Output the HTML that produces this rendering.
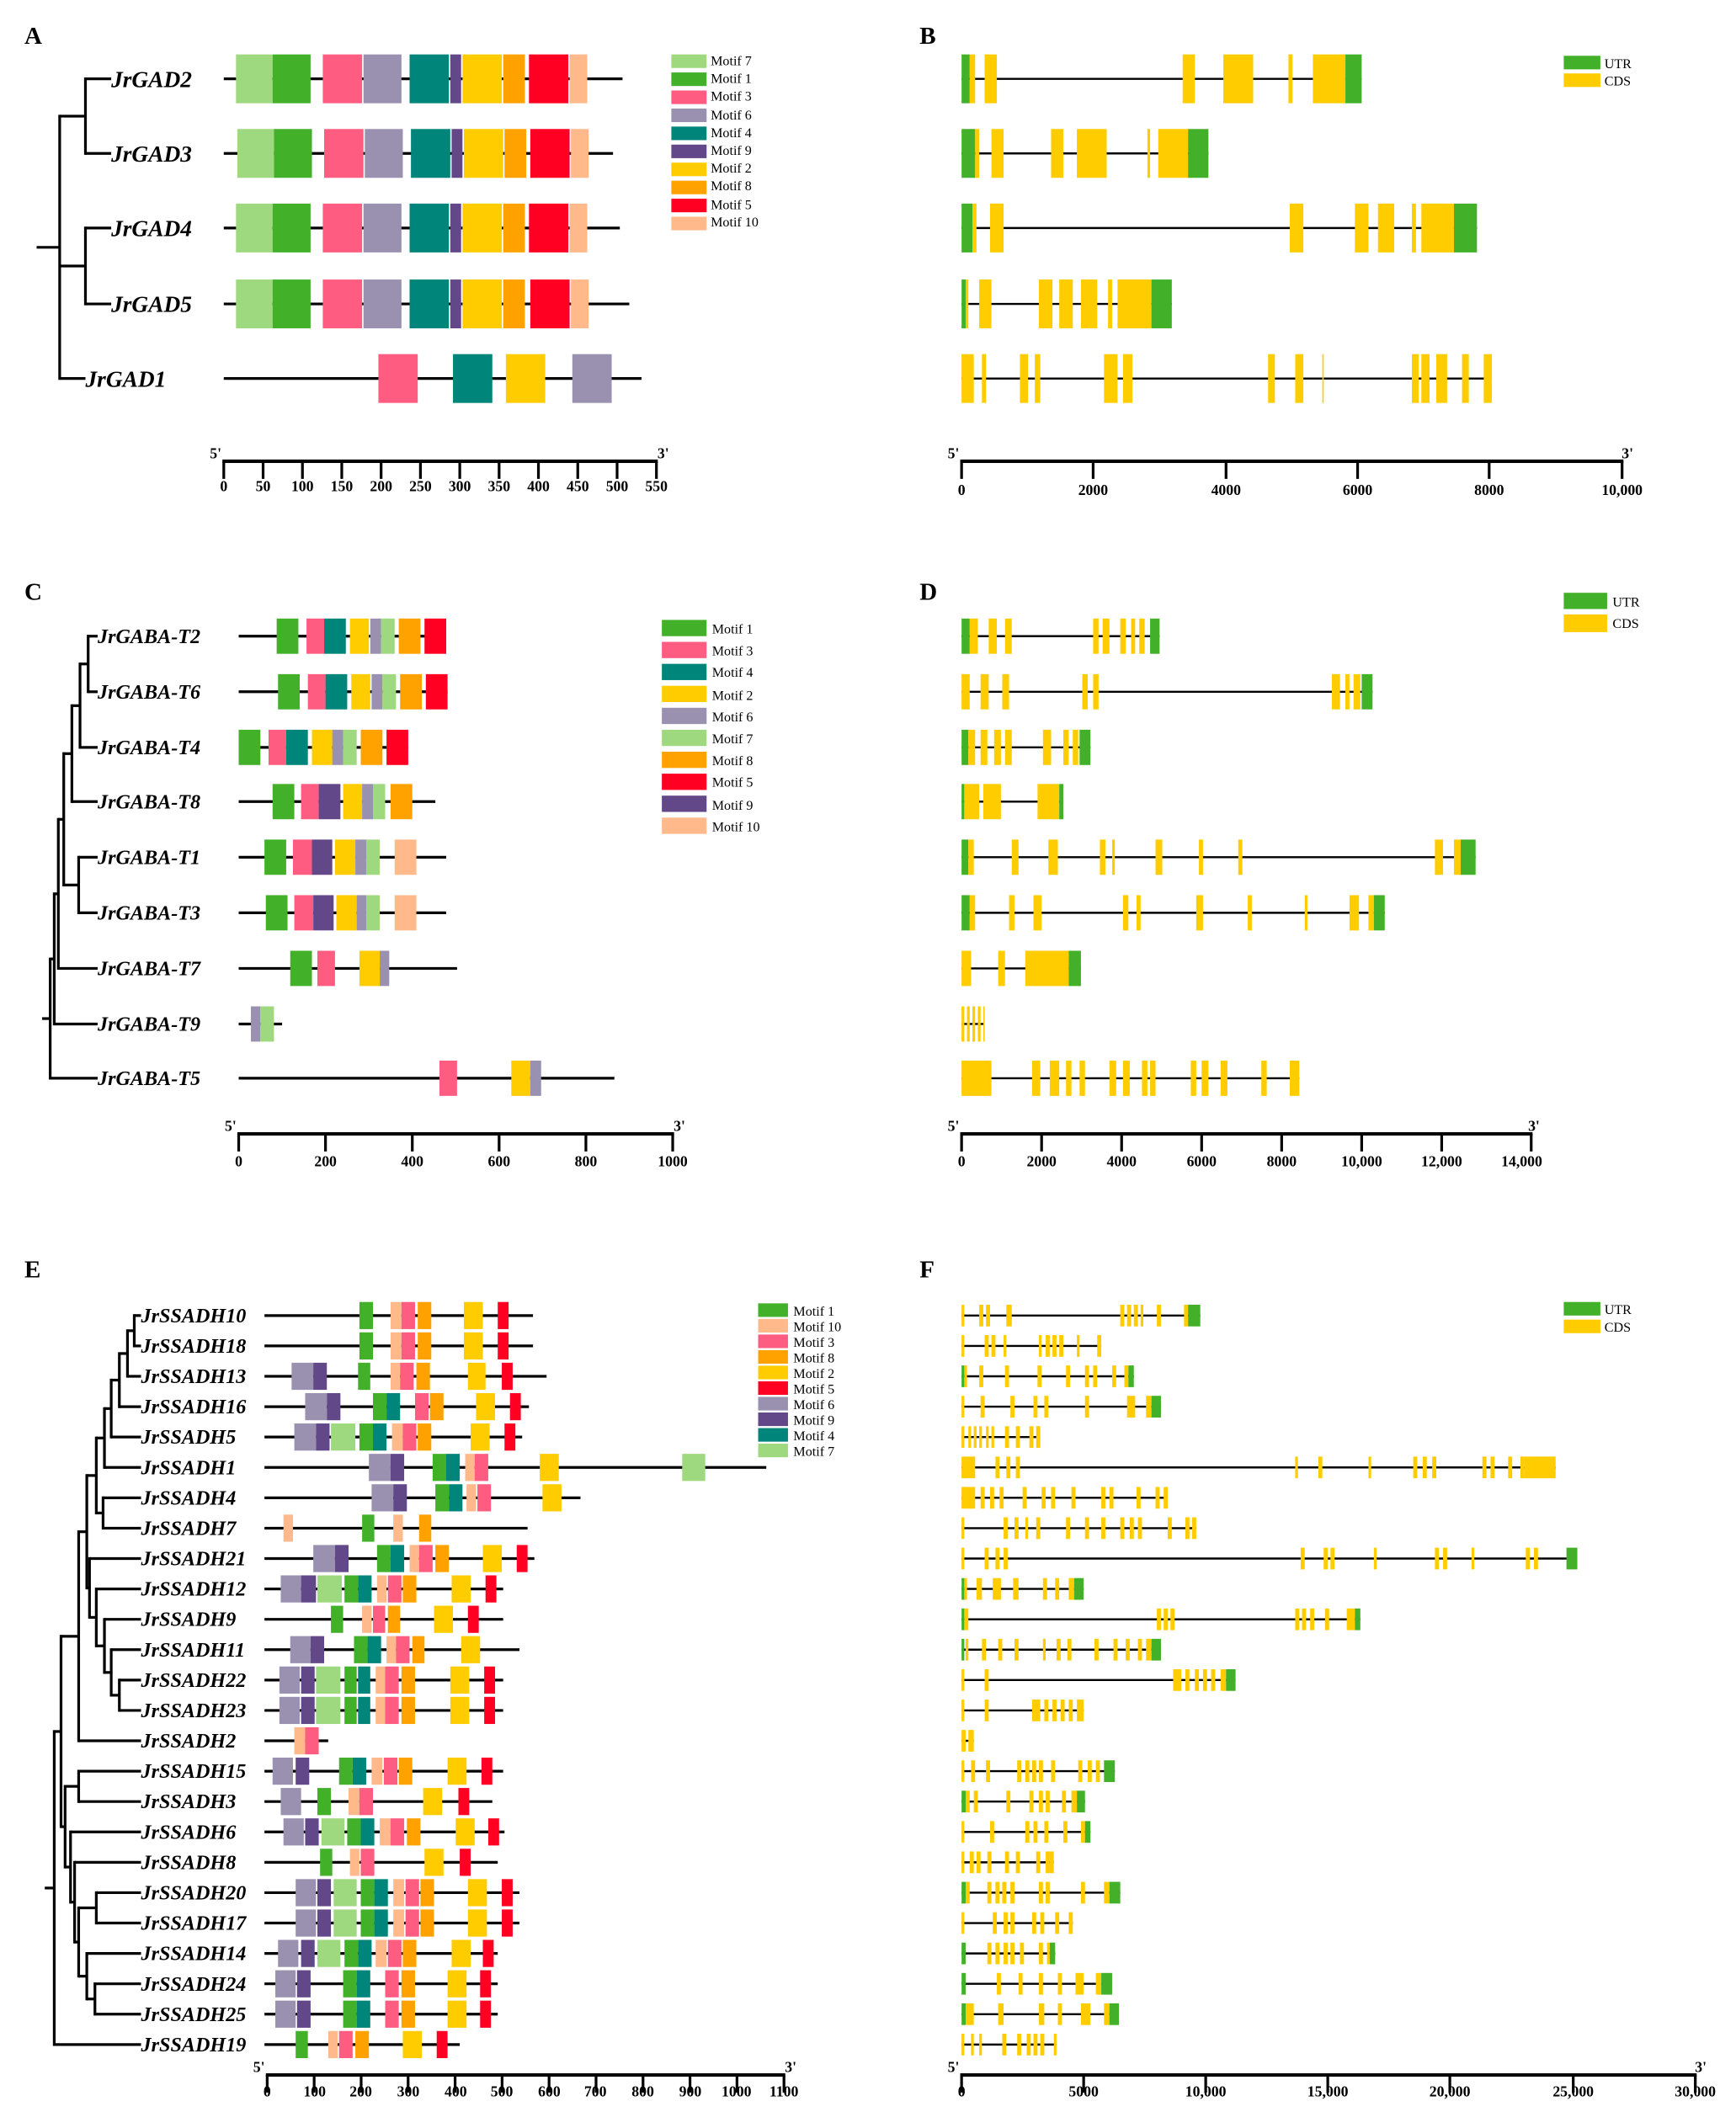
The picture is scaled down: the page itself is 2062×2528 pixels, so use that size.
<!DOCTYPE html>
<html><head><meta charset="utf-8"><style>
html,body{margin:0;padding:0;background:#fff}
svg{display:block}
.g{font-family:"Liberation Serif",serif;font-weight:bold;font-style:italic}
.t{font-family:"Liberation Serif",serif}
.b{font-family:"Liberation Serif",serif;font-weight:bold}
</style></head><body>
<svg id="s" width="2062" height="2528" viewBox="0 0 1280 1569" xmlns="http://www.w3.org/2000/svg">
<g class="b" font-size="18">
<text x="18" y="32">A</text><text x="678" y="32">B</text>
<text x="18" y="442">C</text><text x="678" y="442">D</text>
<text x="18" y="942">E</text><text x="678" y="942">F</text>
</g>
<g class="g" font-size="17">
<text x="82" y="64">JrGAD2</text><text x="82" y="119">JrGAD3</text><text x="82" y="174">JrGAD4</text><text x="82" y="230">JrGAD5</text><text x="63" y="285">JrGAD1</text>
</g>
<g class="g" font-size="15">
<text x="72" y="474">JrGABA-T2</text><text x="72" y="515">JrGABA-T6</text><text x="72" y="556">JrGABA-T4</text><text x="72" y="596">JrGABA-T8</text><text x="72" y="637">JrGABA-T1</text><text x="72" y="678">JrGABA-T3</text><text x="72" y="719">JrGABA-T7</text><text x="72" y="760">JrGABA-T9</text><text x="72" y="800">JrGABA-T5</text>
</g>
<g class="g" font-size="15" id="elab">
<text x="104" y="975">JrSSADH10</text><text x="104" y="997.4">JrSSADH18</text><text x="104" y="1019.8">JrSSADH13</text><text x="104" y="1042.2">JrSSADH16</text><text x="104" y="1064.6">JrSSADH5</text><text x="104" y="1087">JrSSADH1</text><text x="104" y="1109.4">JrSSADH4</text><text x="104" y="1131.8">JrSSADH7</text><text x="104" y="1154.2">JrSSADH21</text><text x="104" y="1176.6">JrSSADH12</text><text x="104" y="1199">JrSSADH9</text><text x="104" y="1221.4">JrSSADH11</text><text x="104" y="1243.8">JrSSADH22</text><text x="104" y="1266.2">JrSSADH23</text><text x="104" y="1288.6">JrSSADH2</text><text x="104" y="1311">JrSSADH15</text><text x="104" y="1333.4">JrSSADH3</text><text x="104" y="1355.8">JrSSADH6</text><text x="104" y="1378.2">JrSSADH8</text><text x="104" y="1400.6">JrSSADH20</text><text x="104" y="1423">JrSSADH17</text><text x="104" y="1445.4">JrSSADH14</text><text x="104" y="1467.8">JrSSADH24</text><text x="104" y="1490.2">JrSSADH25</text><text x="104" y="1512.6">JrSSADH19</text>
</g>
<g class="t" font-size="10">
<text x="524" y="48">Motif 7</text><text x="524" y="61">Motif 1</text><text x="524" y="74">Motif 3</text><text x="524" y="88">Motif 6</text><text x="524" y="101">Motif 4</text><text x="524" y="114">Motif 9</text><text x="524" y="127">Motif 2</text><text x="524" y="140">Motif 8</text><text x="524" y="154">Motif 5</text><text x="524" y="167">Motif 10</text>
<text x="1183" y="50">UTR</text><text x="1183" y="63">CDS</text>
<text x="525" y="467">Motif 1</text><text x="525" y="483">Motif 3</text><text x="525" y="499">Motif 4</text><text x="525" y="516">Motif 2</text><text x="525" y="532">Motif 6</text><text x="525" y="548">Motif 7</text><text x="525" y="564">Motif 8</text><text x="525" y="580">Motif 5</text><text x="525" y="597">Motif 9</text><text x="525" y="613">Motif 10</text>
<text x="1189" y="447">UTR</text><text x="1189" y="463">CDS</text>
<text x="585" y="970">Motif 1</text><text x="585" y="981.5">Motif 10</text><text x="585" y="993">Motif 3</text><text x="585" y="1004.5">Motif 8</text><text x="585" y="1016">Motif 2</text><text x="585" y="1027.5">Motif 5</text><text x="585" y="1039">Motif 6</text><text x="585" y="1050.5">Motif 9</text><text x="585" y="1062">Motif 4</text><text x="585" y="1073.5">Motif 7</text>
<text x="1183" y="969">UTR</text><text x="1183" y="982">CDS</text>
</g>
<g class="b" font-size="11" text-anchor="middle" id="ax">
<text x="165" y="362">0</text><text x="194" y="362">50</text><text x="223" y="362">100</text><text x="252" y="362">150</text><text x="281" y="362">200</text><text x="310" y="362">250</text><text x="339" y="362">300</text><text x="368" y="362">350</text><text x="397" y="362">400</text><text x="426" y="362">450</text><text x="455" y="362">500</text><text x="484" y="362">550</text>
<text x="709" y="365">0</text><text x="806" y="365">2000</text><text x="904" y="365">4000</text><text x="1001" y="365">6000</text><text x="1098" y="365">8000</text><text x="1196" y="365">10,000</text>
<text x="176" y="860">0</text><text x="240" y="860">200</text><text x="304" y="860">400</text><text x="368" y="860">600</text><text x="432" y="860">800</text><text x="496" y="860">1000</text>
<text x="709" y="860">0</text><text x="768" y="860">2000</text><text x="827" y="860">4000</text><text x="886" y="860">6000</text><text x="945" y="860">8000</text><text x="1004" y="860">10,000</text><text x="1063" y="860">12,000</text><text x="1122" y="860">14,000</text>
<text x="197" y="1546">0</text><text x="232" y="1546">100</text><text x="266" y="1546">200</text><text x="301" y="1546">300</text><text x="336" y="1546">400</text><text x="370" y="1546">500</text><text x="405" y="1546">600</text><text x="439" y="1546">700</text><text x="474" y="1546">800</text><text x="509" y="1546">900</text><text x="543" y="1546">1000</text><text x="578" y="1546">1100</text>
<text x="709" y="1546">0</text><text x="799" y="1546">5000</text><text x="889" y="1546">10,000</text><text x="979" y="1546">15,000</text><text x="1069" y="1546">20,000</text><text x="1160" y="1546">25,000</text><text x="1250" y="1546">30,000</text>
<text x="159" y="338">5'</text><text x="489" y="338">3'</text>
<text x="703" y="338">5'</text><text x="1200" y="338">3'</text>
<text x="170" y="834">5'</text><text x="501" y="834">3'</text>
<text x="703" y="834">5'</text><text x="1131" y="834">3'</text>
<text x="191" y="1528">5'</text><text x="583" y="1528">3'</text>
<text x="703" y="1528">5'</text><text x="1254" y="1528">3'</text>
</g>
<g id="d"></g>
</svg>
<script>
var C={7:'#9fd97f',1:'#43b02a',3:'#ff5c82',6:'#9a91b0',4:'#00857a',9:'#624789',2:'#ffcc00',8:'#ffa200',5:'#ff0022',10:'#ffb98a',U:'#43b02a',Y:'#ffcc00'};
var h='';
function R(x1,x2,y1,y2,c){h+='<rect x="'+x1+'" y="'+y1+'" width="'+(x2-x1)+'" height="'+(y2-y1)+'" fill="'+c+'"/>';}
function L(x1,y1,x2,y2,w){h+='<line x1="'+x1+'" y1="'+y1+'" x2="'+x2+'" y2="'+y2+'" stroke="#000" stroke-width="'+(w||2)+'"/>';}
function row(x0,x1,y,bh,m){L(x0,y,x1,y,2);m.forEach(function(b){R(b[1],b[2],y-bh/2,y+bh/2,C[b[0]]);});}
function tree(n,px,Y,lx){if(typeof n=='number'){var y=Y[n];L(px,y,lx[n]||lx.d,y,2);return y;}
 var x=n[0],a=[];for(var i=1;i<n.length;i++)a.push(tree(n[i],x,Y,lx));var mn=Math.min.apply(0,a),mx=Math.max.apply(0,a);L(x,mn-1,x,mx+1,2);var y=(mn+mx)/2;L(px,y,x,y,2);return y;}
function axis(x0,x1,y,t){L(x0-1,y,x1+1,y,2.5);t.forEach(function(x){L(x,y,x,y+13,2);});}
// Panel A
var YA=[58,113,168,224,279];
var A=[[174,201,229,238,267,268,296,302,331,332,340,341,370,371,387,390,419,420,433,459],[175,202,230,239,268,269,297,303,332,333,341,342,371,372,388,391,420,421,434,452],[174,201,229,238,267,268,296,302,331,332,340,341,370,371,387,390,419,420,433,457],[174,201,229,238,267,268,296,302,331,332,340,341,370,371,387,391,420,421,434,464]];
var ko=[7,1,3,6,4,9,2,8,5,10];
A.forEach(function(a,i){var m=[];m.push([7,a[0],a[1]]);m.push([1,a[1],a[2]]);m.push([3,a[3],a[4]]);m.push([6,a[5],a[6]]);m.push([4,a[7],a[8]]);m.push([9,a[9],a[10]]);m.push([2,a[11],a[12]]);m.push([8,a[13],a[14]]);m.push([5,a[15],a[16]]);m.push([10,a[17],a[18]]);row(165,a[19],YA[i],36,m);});
row(165,473,279,36,[[3,279,308],[4,334,363],[2,373,402],[6,422,451]]);
tree([44,[63,0,1],[63,2,3],4],27,YA,{d:82,4:63});
ko.forEach(function(k,i){R(495,521,40+i*13.3,50+i*13.3,C[k]);});
axis(165,484,340,[165,194,223,252,281,310,339,368,397,426,455,484]);
// Panel B
function gs(y,end,bh,list){L(709,y,end,y,1.5);list.forEach(function(e){R(e[0],e[1],y-bh/2,y+bh/2,e[2]?C.U:C.Y);});}
gs(58,1004,36,[[709,715,1],[715,719],[726,735],[872,881],[902,924],[950,953],[968,992],[992,1004,1]]);
gs(113,891,36,[[709,719,1],[719,722],[731,740],[775,784],[794,816],[846,848],[854,876],[876,891,1]]);
gs(168,1089,36,[[709,717,1],[717,720],[730,740],[951,961],[999,1009],[1016,1028],[1041,1044],[1048,1072],[1072,1089,1]]);
gs(224,864,36,[[709,712,1],[712,714],[722,731],[766,776],[781,791],[797,809],[817,820],[824,849],[849,864,1]]);
gs(279,1100,36,[[709,718],[724,727],[752,758],[763,767],[814,824],[828,835],[935,940],[955,961],[975,976],[1041,1046],[1048,1054],[1059,1067],[1078,1083],[1094,1100]]);
R(1153,1180,41,51,C.U);R(1153,1180,54,64,C.Y);
axis(709,1196,340,[709,806,904,1001,1098,1196]);
// Panel C
var YC=[469,510,551,591,632,673,714,755,795];
var CD=[[329,[[1,204,220],[3,226,239],[4,239,255],[2,258,272],[6,273,281],[7,281,291],[8,294,310],[5,313,329]]],
[330,[[1,205,221],[3,227,240],[4,240,256],[2,259,273],[6,274,282],[7,282,292],[8,295,311],[5,314,330]]],
[301,[[1,176,192],[3,198,211],[4,211,227],[2,230,245],[6,245,253],[7,253,263],[8,266,282],[5,285,301]]],
[321,[[1,201,217],[3,222,235],[9,235,251],[2,253,267],[6,267,275],[7,275,284],[8,288,304]]],
[329,[[1,195,211],[3,216,230],[9,230,245],[2,247,262],[6,262,270],[7,270,280],[10,291,307]]],
[329,[[1,196,212],[3,217,231],[9,231,246],[2,248,263],[6,263,270],[7,270,280],[10,291,307]]],
[337,[[1,214,230],[3,234,247],[2,265,280],[6,280,287]]],
[208,[[6,185,192],[7,192,202]]],
[453,[[3,324,337],[2,377,391],[6,391,399]]]];
CD.forEach(function(c,i){row(176,c[0],YC[i],26,c[1]);});
tree([37,[40,[43,[47,[53,[59,[65,0,1],2],3],[58,4,5]],6],7],8],31,YC,{d:72});
[1,3,4,2,6,7,8,5,9,10].forEach(function(k,i){R(488,521,457+i*16.2,469+i*16.2,C[k]);});
axis(176,496,836,[176,240,304,368,432,496]);
// Panel D
gs(469,855,26,[[709,715,1],[715,721],[729,735],[741,746],[806,810],[813,818],[826,830],[834,837],[840,844],[848,855,1]]);
gs(510,1012,26,[[709,715],[723,729],[739,744],[798,802],[806,810],[982,988],[992,995],[998,1003],[1004,1012,1]]);
gs(551,804,26,[[709,714,1],[714,719],[723,728],[733,738],[741,746],[769,775],[784,788],[791,795],[796,804,1]]);
gs(591,784,26,[[709,711,1],[711,722],[725,738],[765,781],[781,784,1]]);
gs(632,1088,26,[[709,714,1],[714,718],[746,751],[773,780],[811,815],[820,822],[852,857],[884,887],[913,916],[1058,1064],[1072,1077],[1077,1088,1]]);
gs(673,1021,26,[[709,715,1],[715,719],[744,748],[762,768],[828,832],[838,841],[882,887],[920,923],[962,964],[995,1002],[1009,1013],[1013,1021,1]]);
gs(714,797,26,[[709,716],[736,741],[756,788],[788,797,1]]);
gs(755,726,26,[[709,711],[713,715],[717,719],[721,723],[725,726]]);
gs(795,958,26,[[709,731],[761,767],[774,781],[786,790],[796,800],[818,823],[828,833],[842,846],[848,852],[878,882],[886,891],[900,905],[930,934],[951,958]]);
R(1153,1185,437,449,C.U);R(1153,1185,453,466,C.Y);
axis(709,1129,836,[709,768,827,886,945,1004,1063,1129]);
// Panel E
var YE=[];for(var i=0;i<25;i++)YE.push(970+i*22.4);
var E=[[393,[[1,265,275],[10,288,296],[3,296,306],[8,308,318],[2,342,356],[5,367,375]]],
[393,[[1,265,275],[10,288,296],[3,296,306],[8,308,318],[2,342,356],[5,367,375]]],
[403,[[6,215,231],[9,231,241],[1,264,273],[10,288,295],[3,295,305],[8,307,317],[2,345,358],[5,370,378]]],
[390,[[6,225,241],[9,241,251],[1,275,285],[4,285,295],[3,306,316],[8,317,327],[2,351,365],[5,376,384]]],
[385,[[6,217,233],[9,233,243],[7,244,262],[1,265,275],[4,275,285],[10,289,297],[3,297,307],[8,308,318],[2,347,361],[5,372,380]]],
[565,[[6,272,288],[9,288,298],[1,319,329],[4,329,339],[10,343,350],[3,350,360],[2,398,412],[7,503,520]]],
[428,[[6,274,290],[9,290,300],[1,321,331],[4,331,341],[10,344,351],[3,352,362],[2,400,414]]],
[389,[[10,209,216],[1,267,276],[10,290,297],[8,309,318]]],
[394,[[6,231,247],[9,247,257],[1,278,288],[4,288,298],[10,302,309],[3,309,319],[8,321,331],[2,356,370],[5,381,389]]],
[371,[[6,207,222],[9,222,233],[7,234,252],[1,254,264],[4,264,274],[10,278,285],[3,286,296],[8,297,307],[2,333,347],[5,358,366]]],
[371,[[1,244,253],[10,267,274],[3,275,284],[8,286,295],[2,320,334],[5,345,353]]],
[383,[[6,214,229],[9,229,239],[1,261,271],[4,271,281],[10,285,292],[3,292,302],[8,304,313],[2,340,354]]],
[371,[[6,206,221],[9,222,232],[7,233,251],[1,254,263],[4,264,273],[10,277,284],[3,284,294],[8,296,306],[2,332,346],[5,357,365]]],
[371,[[6,206,221],[9,222,232],[7,233,251],[1,254,263],[4,264,273],[10,277,284],[3,284,294],[8,296,306],[2,332,346],[5,357,365]]],
[242,[[10,217,225],[3,225,235]]],
[371,[[6,201,216],[9,218,228],[1,250,260],[4,260,270],[10,274,282],[3,283,293],[8,294,304],[2,330,344],[5,355,363]]],
[363,[[6,207,222],[1,234,244],[10,257,265],[3,265,275],[2,312,326],[5,338,346]]],
[372,[[6,209,224],[9,225,235],[7,237,254],[1,256,266],[4,266,276],[10,280,288],[3,288,298],[8,300,310],[2,336,350],[5,360,368]]],
[367,[[1,236,245],[10,258,265],[3,266,276],[2,313,327],[5,339,347]]],
[383,[[6,218,233],[9,234,244],[7,246,263],[1,266,276],[4,276,286],[10,290,298],[3,299,309],[8,310,320],[2,345,359],[5,370,378]]],
[383,[[6,218,233],[9,234,244],[7,246,263],[1,266,276],[4,276,286],[10,290,298],[3,299,309],[8,310,320],[2,345,359],[5,370,378]]],
[367,[[6,205,220],[9,222,232],[7,234,251],[1,254,264],[4,264,274],[10,277,285],[3,286,296],[8,297,307],[2,333,347],[5,356,364]]],
[367,[[6,203,218],[9,219,229],[1,253,263],[4,263,273],[3,284,294],[8,296,306],[2,330,344],[5,354,362]]],
[367,[[6,203,218],[9,219,229],[1,253,263],[4,263,273],[3,284,294],[8,296,306],[2,330,344],[5,354,362]]],
[339,[[1,218,227],[10,242,249],[3,250,260],[8,262,272],[2,297,311],[5,322,330]]]];
E.forEach(function(e,i){row(195,e[0],YE[i],20,e[1]);});
var topN=[64,[71,[77,[82,[88,[94,[99,0,1],2],3],4],5],[76,6,7]],[66,8,[71,9,[77,10,[82,11,[88,12,13]]]]]];
var lowN=[48,[58,15,16],[52,17,[55,18,[58,[71,19,20],[64,21,[70,22,23]]]]]];
tree([40,[45,[58,topN,14],lowN],24],33,YE,{d:104});
[1,10,3,8,2,5,6,9,4,7].forEach(function(k,i){R(559,581,961+i*11.5,971+i*11.5,C[k]);});
var et=[];for(var i=0;i<=11;i++)et.push(197+i*34.64);axis(197,578,1530,et);
// Panel F
var F=[[885,[[709,711],[722,725],[727,730],[742,746],[826,829],[831,834],[836,839],[841,843],[853,856],[873,876],[876,885,1]]],
[812,[[709,711],[726,729],[731,734],[740,742],[766,768],[771,774],[776,779],[781,784],[794,796],[809,812]]],
[836,[[709,711,1],[711,713],[722,725],[741,744],[765,768],[786,789],[800,803],[806,809],[820,823],[829,832],[832,836,1]]],
[856,[[709,711],[723,726],[745,748],[762,765],[770,773],[800,803],[831,837],[845,849],[849,856,1]]],
[767,[[709,711],[714,716],[718,720],[722,724],[727,729],[731,733],[741,744],[749,752],[759,762],[764,767]]],
[1147,[[709,719],[734,737],[742,745],[749,752],[955,957],[972,975],[1009,1011],[1042,1045],[1049,1052],[1056,1059],[1093,1096],[1099,1102],[1112,1115],[1121,1124],[1124,1147]]],
[861,[[709,719],[723,726],[730,733],[737,740],[754,757],[768,771],[775,778],[790,793],[812,815],[818,821],[838,841],[852,855],[858,861]]],
[882,[[709,711],[740,743],[748,751],[756,758],[764,767],[786,789],[800,803],[812,815],[826,829],[833,836],[839,842],[861,864],[874,877],[879,882]]],
[1163,[[709,711],[726,729],[734,737],[740,743],[959,962],[976,979],[981,984],[1013,1015],[1058,1061],[1064,1067],[1085,1087],[1125,1128],[1131,1134],[1155,1163,1]]],
[799,[[709,711,1],[711,713],[720,724],[732,738],[747,751],[769,772],[778,781],[788,792],[792,799,1]]],
[1003,[[709,711,1],[711,714],[853,856],[858,861],[863,866],[955,958],[960,963],[966,969],[977,980],[993,999],[999,1003,1]]],
[856,[[709,711,1],[712,714],[724,727],[736,739],[748,751],[769,771],[779,782],[787,790],[807,810],[821,824],[830,833],[839,842],[845,849],[849,856,1]]],
[911,[[709,711],[726,729],[865,871],[874,877],[881,884],[887,890],[893,896],[900,904],[904,911,1]]],
[799,[[709,711],[726,729],[761,767],[770,773],[776,779],[782,785],[788,791],[794,799]]],
[718,[[709,712],[714,718]]],
[822,[[709,711],[716,719],[727,730],[750,753],[756,759],[761,764],[766,769],[775,778],[795,798],[802,805],[808,811],[814,822,1]]],
[800,[[709,712,1],[712,715],[718,721],[742,745],[759,762],[766,769],[771,774],[783,786],[790,794],[794,800,1]]],
[804,[[709,711],[730,733],[756,759],[762,765],[770,773],[784,787],[797,800],[800,804,1]]],
[777,[[709,711],[715,718],[720,723],[728,731],[741,744],[749,752],[764,767],[771,774],[774,777]]],
[826,[[709,712,1],[712,715],[728,731],[734,737],[739,742],[745,748],[766,769],[771,774],[797,800],[814,818],[818,826,1]]],
[791,[[709,711],[732,735],[740,743],[745,748],[761,764],[767,770],[778,781],[788,791]]],
[778,[[709,712,1],[728,731],[734,737],[740,743],[745,748],[752,755],[766,769],[772,774],[774,778,1]]],
[820,[[709,712,1],[735,738],[751,754],[766,769],[780,783],[793,799],[808,812],[812,820,1]]],
[825,[[709,712,1],[712,718],[736,740],[766,770],[780,783],[797,804],[814,818],[818,825,1]]],
[779,[[709,711],[716,718],[722,724],[739,742],[750,753],[757,760],[762,765],[767,770],[777,779]]]];
F.forEach(function(f,i){gs(YE[i],f[0],16,f[1]);});
R(1153,1180,960,970,C.U);R(1153,1180,973,983,C.Y);
axis(709,1250,1530,[709,799,889,979,1069,1160,1250]);
document.getElementById('d').innerHTML=h;
</script>
</body></html>
